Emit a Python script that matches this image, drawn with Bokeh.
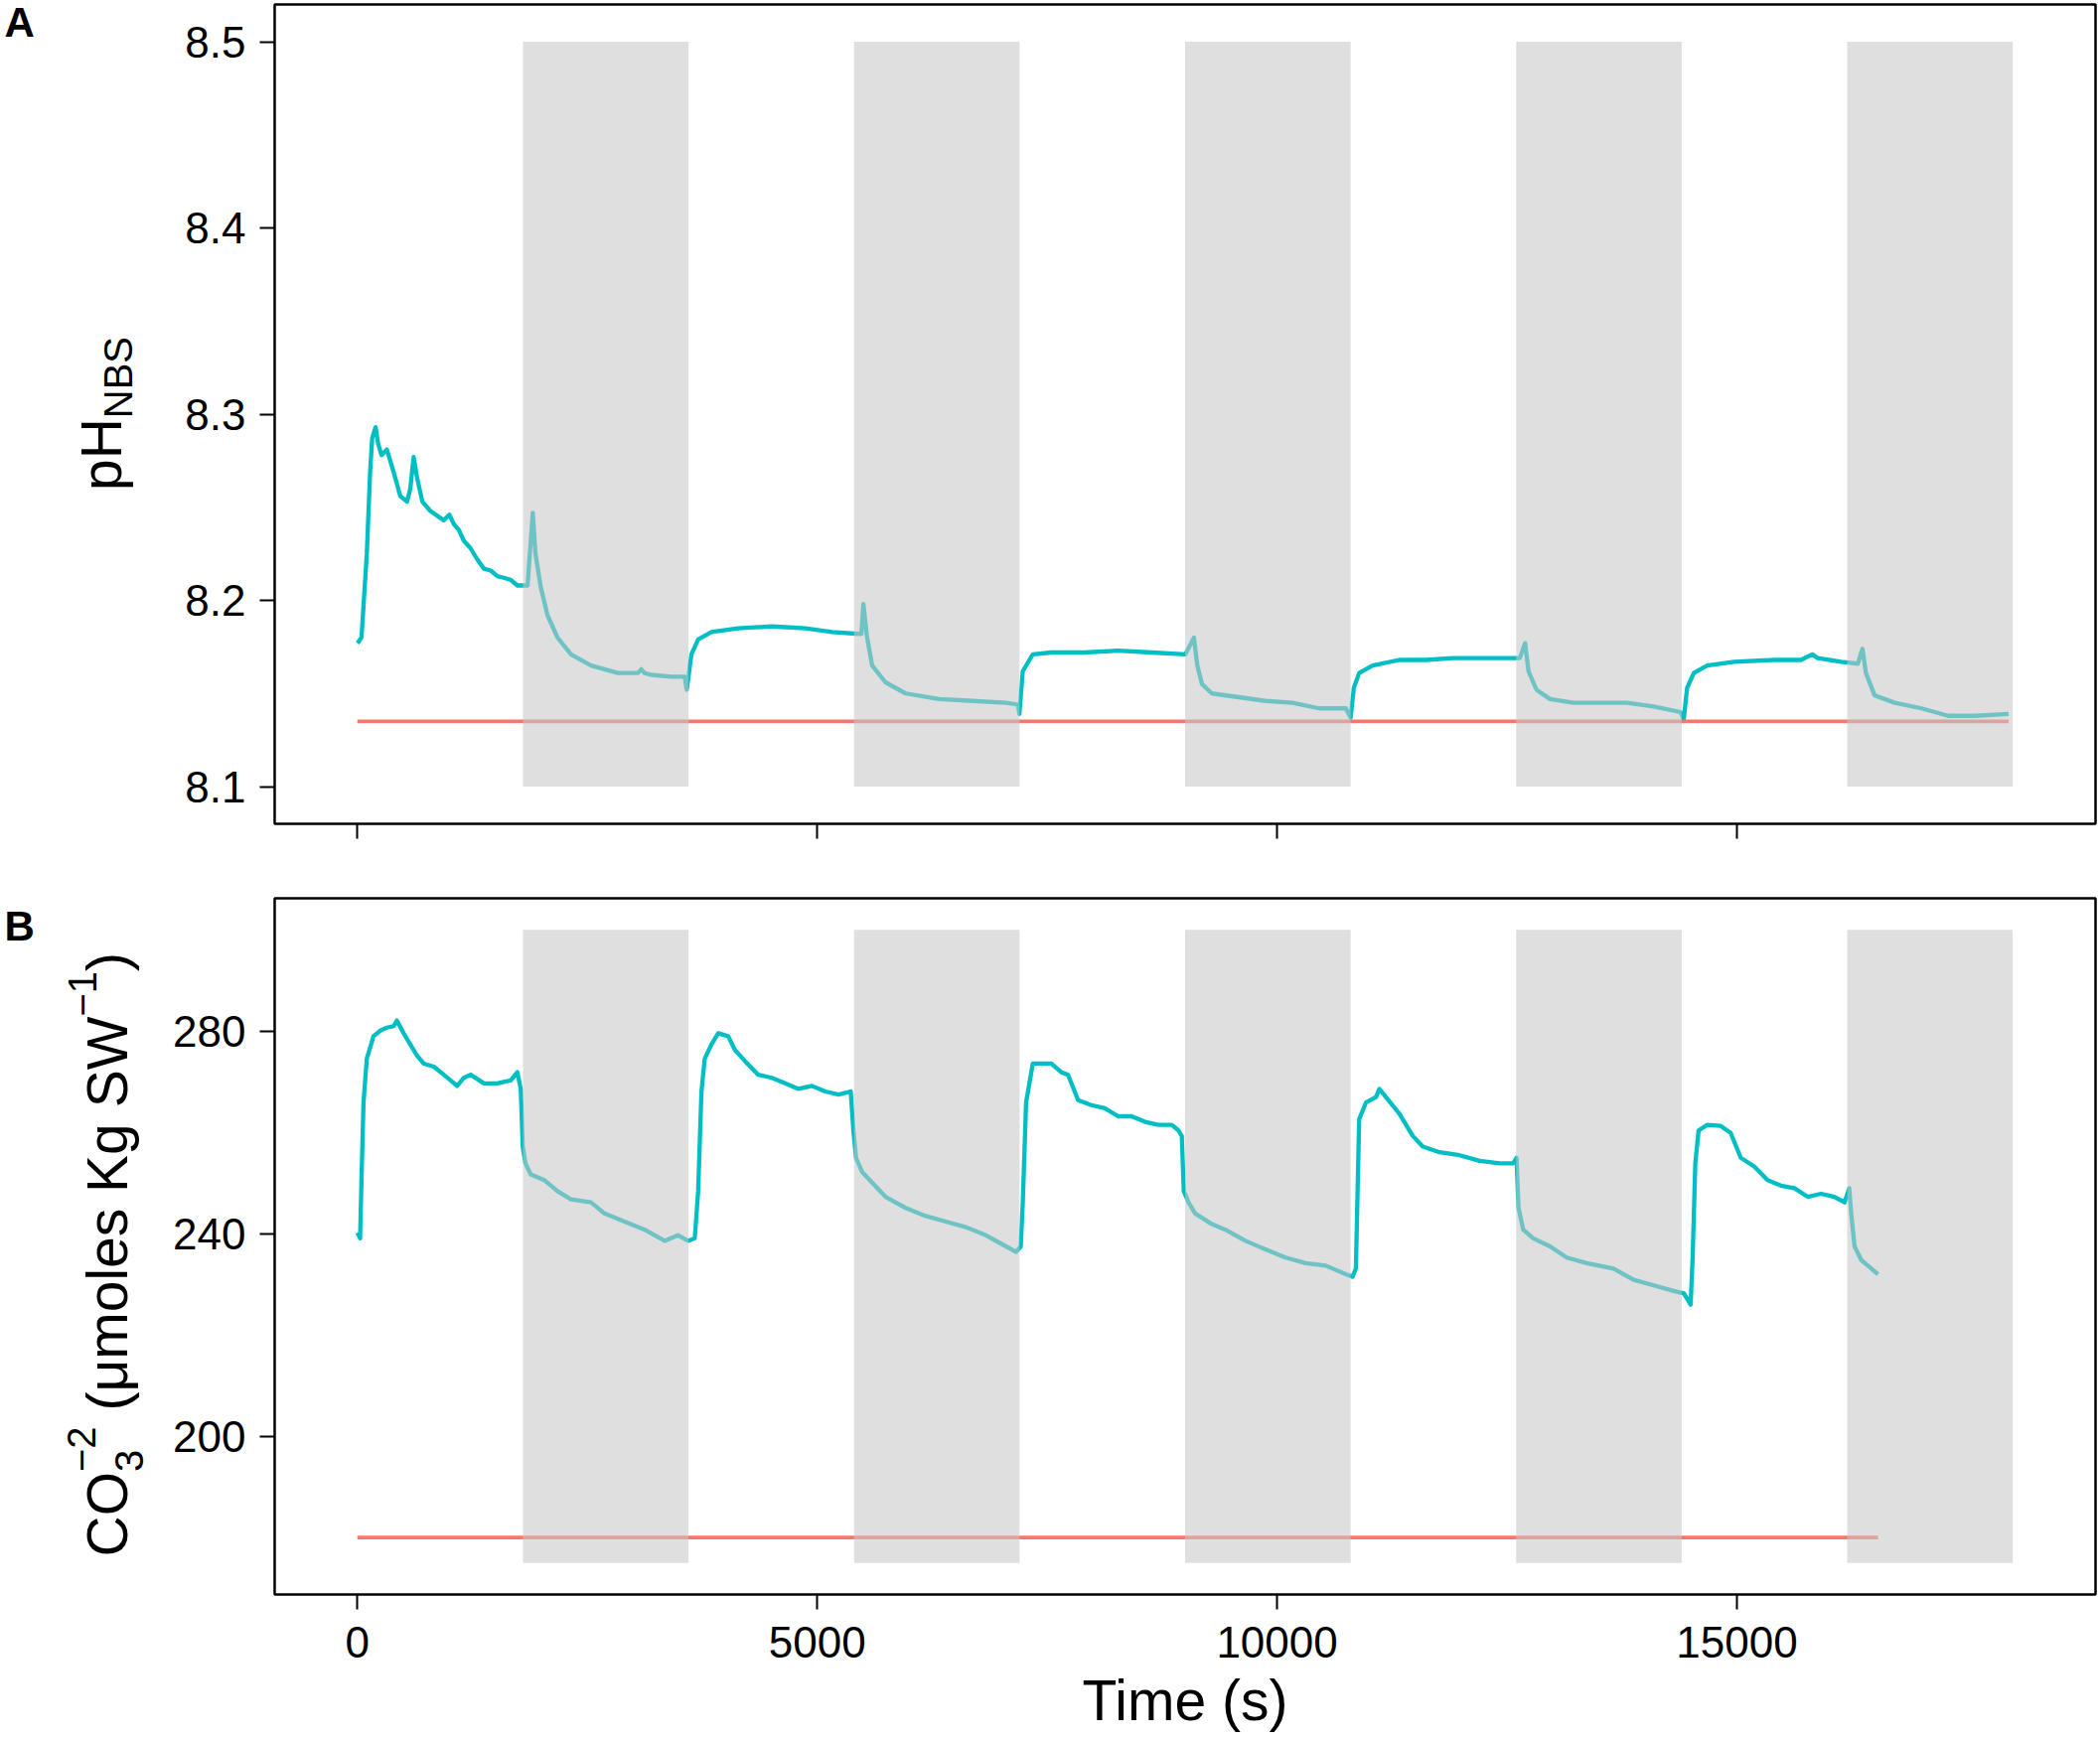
import math
from bokeh.plotting import figure
from bokeh.layouts import row, column
from bokeh.models import Range1d, FixedTicker, PrintfTickFormatter
from bokeh.core.properties import value
from bokeh.embed import file_html
from bokeh.resources import INLINE

# ---------------- data ----------------
dark_start = [1800, 5400, 9000, 12600, 16200]
dark_end = [3600, 7200, 10800, 14400, 18000]

ph_time = [0, 44, 102, 138, 160, 197, 226, 262, 320, 393, 466, 539, 575, 611, 648, 706,
           793, 939, 1000, 1048, 1100, 1157, 1230, 1303, 1376, 1450, 1521, 1600, 1667, 1739, 1812,
           1850, 1907, 1936, 1994, 2067, 2176, 2322, 2540, 2831, 3050, 3086, 3120, 3195, 3413,
           3559, 3581, 3632, 3705, 3850, 4141, 4505, 4869, 5160, 5451, 5480, 5502, 5539, 5597,
           5742, 5961, 6325, 6689, 7053, 7184, 7198, 7235, 7344, 7547, 7909, 8273, 8637, 9003,
           9096, 9133, 9184, 9292, 9584, 9875, 10166, 10457, 10748, 10800, 10835, 10893, 11039,
           11329, 11620, 11911, 12275, 12640, 12697, 12734, 12821, 12967, 13221, 13512, 13804,
           14095, 14386, 14422, 14459, 14532, 14677, 14969, 15405, 15696, 15820, 15879, 16133,
           16315, 16366, 16403, 16497, 16716, 17007, 17298, 17590, 17954]
ph_value = [8.177, 8.180, 8.225, 8.269, 8.287, 8.293, 8.284, 8.278, 8.281, 8.269, 8.256, 8.253,
            8.260, 8.277, 8.266, 8.253, 8.248, 8.243, 8.246, 8.241, 8.238, 8.232, 8.228, 8.222,
            8.217, 8.216, 8.213, 8.212, 8.211, 8.208, 8.208, 8.208, 8.247, 8.225, 8.207, 8.192,
            8.180, 8.171, 8.165, 8.161, 8.161, 8.163, 8.161, 8.160, 8.159, 8.159, 8.152, 8.171,
            8.179, 8.183, 8.185, 8.186, 8.185, 8.183, 8.182, 8.182, 8.198, 8.181, 8.165, 8.156,
            8.150, 8.147, 8.146, 8.145, 8.144, 8.139, 8.162, 8.171, 8.172, 8.172, 8.173, 8.172,
            8.171, 8.180, 8.165, 8.155, 8.150, 8.148, 8.146, 8.145, 8.142, 8.142, 8.137, 8.153,
            8.161, 8.165, 8.168, 8.168, 8.169, 8.169, 8.169, 8.177, 8.162, 8.152, 8.147, 8.145,
            8.145, 8.145, 8.143, 8.140, 8.136, 8.153, 8.161, 8.165, 8.167, 8.168, 8.168, 8.171,
            8.169, 8.167, 8.166, 8.174, 8.161, 8.149, 8.145, 8.142, 8.138, 8.138, 8.139]

co3_time = [0, 29, 44, 66, 102, 175, 247, 320, 393, 429, 502, 575, 648, 721, 830, 939, 1084,
            1157, 1230, 1376, 1521, 1667, 1739, 1776, 1798, 1827, 1885, 2031, 2176, 2322, 2540,
            2686, 2904, 3123, 3341, 3486, 3595, 3668, 3705, 3741, 3777, 3850, 3923, 4032, 4105,
            4214, 4359, 4505, 4651, 4796, 4942, 5087, 5233, 5364, 5393, 5422, 5488, 5597, 5742,
            5961, 6180, 6398, 6616, 6835, 7053, 7162, 7213, 7235, 7271, 7344, 7545, 7654, 7727,
            7836, 7982, 8127, 8273, 8418, 8564, 8710, 8855, 8928, 8964, 8986, 9037, 9110, 9292,
            9438, 9656, 9874, 10093, 10311, 10529, 10747, 10820, 10857, 10893, 10966, 11076,
            11112, 11184, 11330, 11476, 11585, 11767, 11985, 12203, 12422, 12567, 12604, 12626,
            12677, 12786, 12968, 13150, 13368, 13659, 13877, 14096, 14314, 14424, 14497, 14519,
            14548, 14584, 14678, 14824, 14933, 15042, 15188, 15333, 15479, 15625, 15770, 15916,
            16061, 16171, 16222, 16243, 16280, 16353, 16425, 16535]
co3_value = [240.2, 239.1, 250.6, 265.9, 274.6, 279.0, 280.1, 280.7, 281.0, 282.1, 279.6, 277.4,
             275.2, 273.6, 273.0, 271.4, 269.2, 270.8, 271.4, 269.7, 269.7, 270.3, 271.9, 268.6,
             257.2, 253.9, 251.7, 250.6, 248.4, 246.8, 246.2, 244.0, 242.4, 240.8, 238.6, 239.7,
             238.6, 239.1, 248.4, 268.1, 274.6, 277.4, 279.6, 279.0, 276.3, 274.1, 271.4, 270.8,
             269.7, 268.6, 269.2, 268.1, 267.5, 268.1, 260.4, 255.0, 252.2, 250.1, 247.3, 245.1,
             243.5, 242.4, 241.3, 239.7, 237.5, 236.4, 237.5, 246.2, 265.9, 273.6, 273.6, 271.9,
             271.4, 266.4, 265.4, 264.8, 263.2, 263.2, 262.1, 261.5, 261.5, 260.4, 259.3, 248.4,
             246.2, 244.0, 241.9, 240.8, 238.6, 236.9, 235.3, 234.2, 233.7, 232.0, 231.5, 233.1,
             262.6, 265.9, 267.0, 268.6, 267.0, 263.7, 259.3, 257.2, 256.1, 255.5, 254.4, 253.9,
             253.9, 255.0, 245.1, 240.8, 239.1, 237.5, 235.3, 234.2, 233.1, 230.9, 229.8, 228.7,
             228.2, 226.0, 235.3, 253.9, 260.4, 261.5, 261.3, 259.9, 255.0, 253.3, 250.6, 249.5,
             249.0, 247.3, 247.9, 247.3, 246.2, 249.0, 244.0, 237.5, 234.8, 233.7, 232.0]

ph_ref_time = [0, 17954]
ph_ref_value = [8.135, 8.135]
co3_ref_time = [0, 16535]
co3_ref_value = [180, 180]

ph_ticks = [8.1, 8.2, 8.3, 8.4, 8.5]
co3_ticks = [200, 240, 280]
time_ticks = [0, 5000, 10000, 15000]
ph_shade = (8.1, 8.5)
co3_shade = (175, 300)

# ---------------- styling ----------------
FONT = "Liberation Sans"
CYAN = "#00BFC4"
RED = "#F8766D"
SHADE = "#C6C6C6"

LAB_W = 150
MAIN_LEFT = 126
FRAME_W = 1833
MAIN_RIGHT = 4
BASE_SHIFT = 0.35   # correction of the baseline position, as a fraction of font size


def main_fig(height, yr, top, bottom):
    p = figure(width=MAIN_LEFT + FRAME_W + MAIN_RIGHT, height=height,
               x_range=Range1d(-900, 18900), y_range=Range1d(*yr),
               output_backend="svg", toolbar_location=None,
               min_border_left=MAIN_LEFT, min_border_right=MAIN_RIGHT,
               min_border_top=top, min_border_bottom=bottom)
    p.xgrid.visible = False
    p.ygrid.visible = False
    p.outline_line_color = "black"
    p.outline_line_width = 2.5
    p.background_fill_color = "white"
    p.border_fill_color = "white"
    for ax in (p.xaxis[0], p.yaxis[0]):
        ax.axis_line_color = None
        ax.major_tick_out = 15
        ax.major_tick_in = 0
        ax.minor_tick_line_color = None
        ax.major_tick_line_width = 2
        ax.major_tick_line_color = "black"
        ax.major_label_text_font = FONT
        ax.major_label_text_font_size = "44px"
        ax.major_label_text_color = "black"
    p.yaxis[0].major_label_standoff = 14
    p.xaxis[0].major_label_standoff = 17
    p.xaxis[0].ticker = FixedTicker(ticks=time_ticks)
    return p


def label_fig(height, top, bottom):
    fh = height - top - bottom
    p = figure(width=LAB_W, height=height, x_range=Range1d(0, LAB_W), y_range=Range1d(0, fh),
               output_backend="svg", toolbar_location=None,
               x_axis_location=None, y_axis_location=None,
               min_border_left=0, min_border_right=0, min_border_top=top, min_border_bottom=bottom)
    p.xgrid.visible = False
    p.ygrid.visible = False
    p.outline_line_color = None
    p.background_fill_color = "white"
    p.border_fill_color = "white"
    return p


def vtext(p, x, y, txt, size):
    """Text reading bottom-to-top; x is the wanted baseline position."""
    p.text(x=[x - BASE_SHIFT * size], y=[y], text=[txt], angle=math.pi / 2,
           text_font=value(FONT), text_font_size=f"{size}px", text_align="left",
           text_baseline="alphabetic", text_color="black")


def htext(p, x, y, txt, size):
    """Bold horizontal panel letter; y is the wanted baseline position."""
    p.text(x=[x], y=[y + BASE_SHIFT * size], text=[txt], angle=0,
           text_font=value(FONT), text_font_size=f"{size}px", text_font_style="bold",
           text_align="left", text_baseline="alphabetic", text_color="black")


# ---------------- panel A ----------------
A_H, A_TOP, A_BOT = 870, 4, 41          # frame: 825 px
pA = main_fig(A_H, (8.08, 8.52), A_TOP, A_BOT)
pA.yaxis[0].ticker = FixedTicker(ticks=ph_ticks)
pA.yaxis[0].formatter = PrintfTickFormatter(format="%.1f")
pA.xaxis[0].major_label_overrides = {t: "" for t in time_ticks}
pA.line(ph_time, ph_value, line_color=CYAN, line_width=4.3, line_join="round")
pA.line(ph_ref_time, ph_ref_value, line_color=RED, line_width=3.7)
pA.quad(left=dark_start, right=dark_end, bottom=[ph_shade[0]] * len(dark_start),
        top=[ph_shade[1]] * len(dark_start), fill_color=SHADE, fill_alpha=0.565, line_color=None)

# label figure coordinates = pixels above the frame bottom
labA = label_fig(A_H, A_TOP, A_BOT)
htext(labA, 4, 792, "A", 42)
vtext(labA, 121, 335.5, "pH", 57)
vtext(labA, 132, 408.3, "NBS", 40)

# ---------------- panel B ----------------
B_H, B_TOP, B_BOT = 880, 34, 145        # frame: 701 px
pB = main_fig(B_H, (168.75, 306.25), B_TOP, B_BOT)
pB.yaxis[0].ticker = FixedTicker(ticks=co3_ticks)
pB.xaxis[0].formatter = PrintfTickFormatter(format="%d")
pB.xaxis[0].axis_label = "Time (s)"
pB.xaxis[0].axis_label_text_font = FONT
pB.xaxis[0].axis_label_text_font_size = "57px"
pB.xaxis[0].axis_label_text_font_style = "normal"
pB.xaxis[0].axis_label_text_color = "black"
pB.xaxis[0].axis_label_standoff = 8
pB.line(co3_time, co3_value, line_color=CYAN, line_width=4.3, line_join="round")
pB.line(co3_ref_time, co3_ref_value, line_color=RED, line_width=3.7)
pB.quad(left=dark_start, right=dark_end, bottom=[co3_shade[0]] * len(dark_start),
        top=[co3_shade[1]] * len(dark_start), fill_color=SHADE, fill_alpha=0.565, line_color=None)

labB = label_fig(B_H, B_TOP, B_BOT)
htext(labB, 4, 658, "B", 42)
y0 = 38.0
vtext(labB, 127, y0, "CO", 57)
vtext(labB, 143, y0 + 85.5, "3", 40)
vtext(labB, 95, y0 + 85.5, "\u22122", 40)
y1 = y0 + 85.5 + 45.6 + 15.8
vtext(labB, 127, y1, "(\u03bcmoles Kg SW", 57)
y2 = y1 + 397.1
vtext(labB, 96, y2, "\u22121", 40)
vtext(labB, 127, y2 + 45.6, ")", 57)

layout = column(row(labA, pA), row(labB, pB))
open("out.html", "w").write(file_html(layout, INLINE))
